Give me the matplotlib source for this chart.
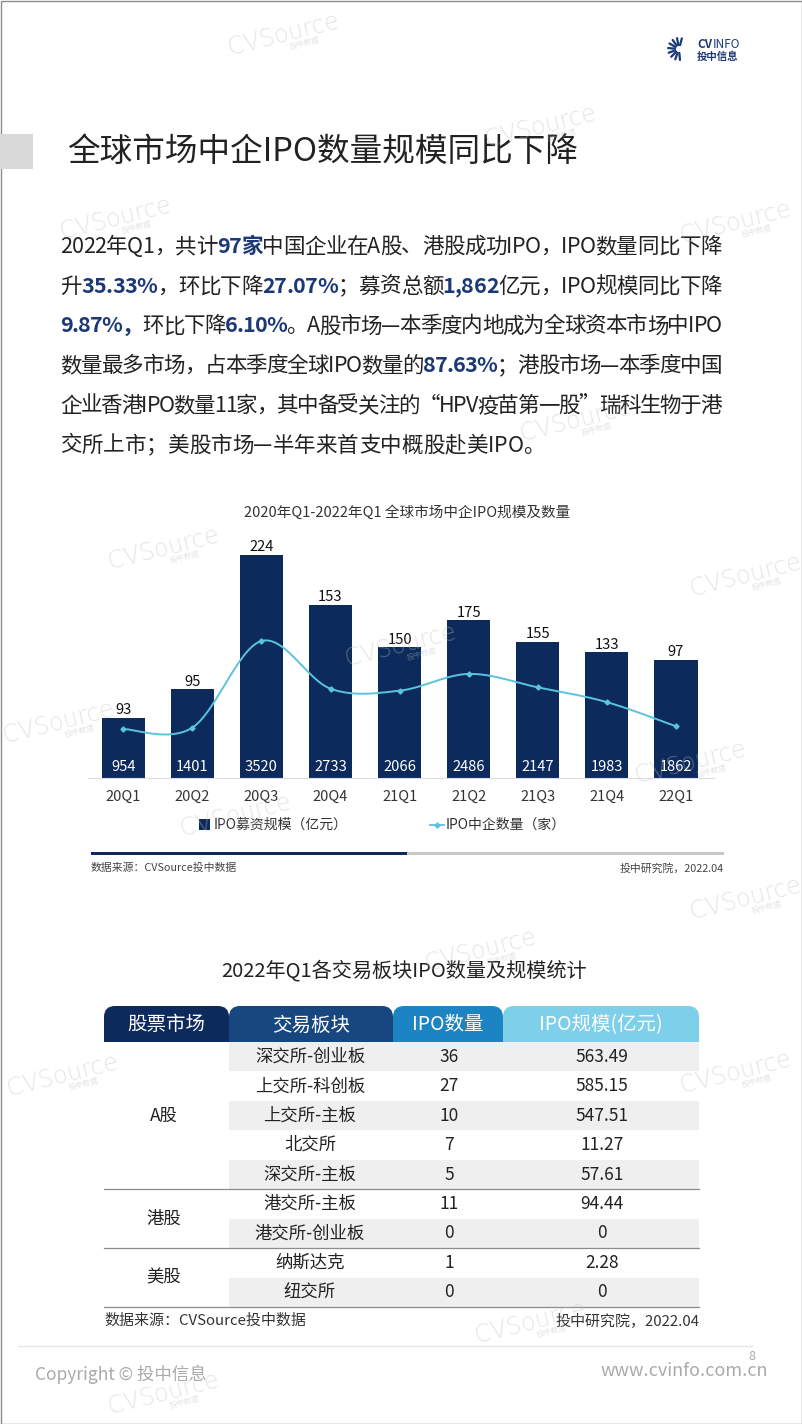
import numpy as np
import matplotlib.pyplot as plt
from matplotlib.patches import Rectangle, FancyBboxPatch

CJK = 'Noto Sans CJK SC'
plt.rcParams['font.family'] = [CJK, 'DejaVu Sans']

# chart data
quarters = ['20Q1', '20Q2', '20Q3', '20Q4', '21Q1', '21Q2', '21Q3', '21Q4', '22Q1']
ipo_amount = [954, 1401, 3520, 2733, 2066, 2486, 2147, 1983, 1862]   # 亿元, bars
ipo_count = [93, 95, 224, 153, 150, 175, 155, 133, 97]               # 家, line

# table data
headers = ['股票市场', '交易板块', 'IPO数量', 'IPO规模(亿元)']
markets = ['A股', '港股', '美股']
market_rows = [5, 2, 2]
boards = ['深交所-创业板', '上交所-科创板', '上交所-主板', '北交所', '深交所-主板',
          '港交所-主板', '港交所-创业板', '纳斯达克', '纽交所']
board_count = [36, 27, 10, 7, 5, 11, 0, 1, 0]
board_amount = [563.49, 585.15, 547.51, 11.27, 57.61, 94.44, 0, 2.28, 0]

# paragraph, (text, highlighted)
para = [
    [('2022年Q1，共计', 0), ('97家', 1), ('中国企业在A股、港股成功IPO，IPO数量同比下降', 0)],
    [('升', 0), ('35.33%', 1), ('，环比下降', 0), ('27.07%', 1), ('；募资总额', 0), ('1,862', 1),
     ('亿元，IPO规模同比下降', 0)],
    [('9.87%，', 1), ('环比下降', 0), ('6.10%', 1), ('。A股市场—本季度内地成为全球资本市场中IPO', 0)],
    [('数量最多市场，占本季度全球IPO数量的', 0), ('87.63%', 1), ('；港股市场—本季度中国', 0)],
    [('企业香港IPO数量11家，其中备受关注的“HPV疫苗第一股”瑞科生物于港', 0)],
    [('交所上市；美股市场—半年来首支中概股赴美IPO。', 0)],
]

navy = '#0C2A5C'
hl = '#1B3878'
cyan = '#5BC2DF'
ink = '#222222'

W, H = 802, 1424
fig = plt.figure(figsize=(W / 100, H / 100), dpi=100)
page = fig.add_axes([0, 0, 1, 1], zorder=0)
page.set_xlim(0, W)
page.set_ylim(H, 0)
page.axis('off')
r = fig.canvas.get_renderer()

# page frame and header
page.add_patch(Rectangle((0.5, 0.5), W - 1, H - 1, fill=False, ec='#8C8C8C', lw=1))
page.add_patch(Rectangle((0, 134), 33, 35, fc='#D9D9D9', ec='none'))
page.text(67, 152, '全球市场中企IPO数量规模同比下降', fontsize=23.5, color=ink, va='center',
          fontweight='light')

# logo
for a in np.radians([75, 100, 125, 150, 175, 200, 225, 250, 275]):
    page.plot([679 + 4 * np.cos(a), 679 + 11 * np.cos(a)],
              [49 - 4 * np.sin(a), 49 - 11 * np.sin(a)], color=hl, lw=1.6, solid_capstyle='round')
page.text(697, 45, 'CV', fontsize=8.5, color=hl, fontweight='bold', va='center')
page.text(713, 45, 'INFO', fontsize=8.5, color=hl, va='center')
page.text(697, 57, '投中信息', fontsize=7.5, color=hl, fontweight='bold', va='center')


def advance(s, **kw):
    t = page.text(0, 0, s + '国', **kw)
    w = t.get_window_extent(r).width
    t.set_text('国')
    w -= t.get_window_extent(r).width
    t.remove()
    return w


# paragraph, justified line by line
x_left, x_right = 60, 722
for k, line in enumerate(para):
    chars = []
    for txt, bold in line:
        for c in txt:
            chars.append((c, bold))
    styles = [dict(fontsize=15.5, color=hl if b else ink, fontweight='bold' if b else 'normal') for c, b in chars]
    widths = [advance(c, **st) for (c, b), st in zip(chars, styles)]
    gap = 0
    if k < len(para) - 1:
        gap = (x_right - x_left - sum(widths)) / (len(chars) - 1)
    x = x_left
    y = 253 + k * 39.7
    for (c, b), st, w in zip(chars, styles, widths):
        page.text(x, y, c, va='baseline', ha='left', **st)
        x += w + gap

# chart
page.text(407, 513, '2020年Q1-2022年Q1 全球市场中企IPO规模及数量', ha='center', va='center',
          fontsize=10.5, color='#333333')

ax = fig.add_axes([88 / W, 1 - 778 / H, 626 / W, 238 / H], zorder=1)
ax.patch.set_alpha(0)
xs = np.arange(len(quarters))
ax.bar(xs, ipo_amount, width=0.625, color=navy, zorder=2)
ax.set_xlim(-0.51, 8.55)
ax.set_ylim(0, 3754)
for s in ax.spines.values():
    s.set_visible(False)
ax.spines['bottom'].set_visible(True)
ax.spines['bottom'].set_color('#DDDDDD')
ax.set_yticks([])
ax.set_xticks(xs, quarters, fontsize=10.5, color='#333333')
ax.tick_params(axis='x', length=0, pad=8.5)
for i in xs:
    ax.annotate(str(ipo_count[i]), (i, ipo_amount[i]), xytext=(0, 3.5), textcoords='offset pixels',
                ha='center', va='baseline', fontsize=10.6, color='#111111')
    ax.annotate(str(ipo_amount[i]), (i, 0), xytext=(0, 7), textcoords='offset pixels',
                ha='center', va='baseline', fontsize=10.6, color='white')


def catmull(x, y, n=24):
    x = np.asarray(x, float)
    y = np.asarray(y, float)
    px = np.concatenate([[x[0]], x, [x[-1]]])
    py = np.concatenate([[y[0]], y, [y[-1]]])
    t = np.linspace(0, 1, n)[:, None]
    out = []
    for i in range(1, len(px) - 2):
        p = np.array([[px[i + j], py[i + j]] for j in (-1, 0, 1, 2)])
        seg = 0.5 * (2 * p[1] + (-p[0] + p[2]) * t + (2 * p[0] - 5 * p[1] + 4 * p[2] - p[3]) * t ** 2
                     + (-p[0] + 3 * p[1] - 3 * p[2] + p[3]) * t ** 3)
        out.append(seg if i == 1 else seg[1:])
    out = np.vstack(out)
    return out[:, 0], out[:, 1]


ax2 = ax.twinx()
ax2.set_ylim(20.1, 374.3)
ax2.axis('off')
cx, cy = catmull(xs, ipo_count)
ax2.plot(cx, cy, color=cyan, lw=1.4)
ax2.plot(xs, ipo_count, ls='none', marker='D', ms=2.6, color=cyan)

# legend
page.add_patch(Rectangle((199, 819), 11, 11, fc=navy, ec='none'))
page.text(214, 824.5, 'IPO募资规模（亿元）', fontsize=10, color='#333333', va='center')
page.plot([430, 444], [824.5, 824.5], color=cyan, lw=1.3)
page.plot([437], [824.5], marker='D', ms=2.6, color=cyan)
page.text(446, 824.5, 'IPO中企数量（家）', fontsize=10, color='#333333', va='center')

page.add_patch(Rectangle((91, 851.5), 316, 3.5, fc=navy, ec='none'))
page.add_patch(Rectangle((407, 851.5), 317, 3.5, fc='#C8C8C8', ec='none'))
page.text(91, 868, '数据来源：CVSource投中数据', fontsize=7.8, color='#444444', va='center')
page.text(724, 868, '投中研究院，2022.04', fontsize=7.8, color='#444444', va='center', ha='right')

# table
page.text(404, 971, '2022年Q1各交易板块IPO数量及规模统计', fontsize=14.5, color=ink, ha='center', va='center')
hx = [104, 229, 393, 503, 699]
hcolors = ['#0D2A5C', '#17477F', '#1C84C3', '#7DCFEA']
top, hb = 1006, 1042
for i in range(4):
    x0, x1 = hx[i], hx[i + 1]
    page.add_patch(FancyBboxPatch((x0, top), x1 - x0, hb - top, boxstyle='round,pad=0,rounding_size=11',
                                  fc=hcolors[i], ec='none'))
    page.add_patch(Rectangle((x0, top + 15), x1 - x0, hb - top - 15, fc=hcolors[i], ec='none'))
    page.text((x0 + x1) / 2, (top + hb) / 2 + 1, headers[i], fontsize=14, color='white', ha='center', va='center')

row_h = (1307 - hb) / len(boards)
for j in range(len(boards)):
    yc = hb + (j + 0.5) * row_h
    if j % 2 == 0:
        page.add_patch(Rectangle((229, hb + j * row_h), 699 - 229, row_h, fc='#EFEFEF', ec='none'))
    page.text(310, yc, boards[j], fontsize=12.5, color=ink, ha='center', va='center')
    page.text(449, yc, str(board_count[j]), fontsize=12.5, color=ink, ha='center', va='center')
    page.text(602, yc, f'{board_amount[j]:g}', fontsize=12.5, color=ink, ha='center', va='center')

start = 0
for m, n in zip(markets, market_rows):
    page.text(164, hb + (start + n / 2) * row_h, m, fontsize=12.5, color=ink, ha='center', va='center')
    start += n
    page.plot([104, 699], [hb + start * row_h] * 2, color='#8C8C8C', lw=0.9)

page.text(104, 1321, '数据来源：CVSource投中数据', fontsize=10.8, color='#333333', va='center')
page.text(699, 1321, '投中研究院，2022.04', fontsize=10.8, color='#333333', va='center', ha='right')

# footer
page.plot([18, 752], [1346, 1346], color='#E6E6E6', lw=1)
page.text(35, 1374, 'Copyright © 投中信息', fontsize=12.5, color='#AAAAAA', va='center')
page.text(768, 1371, 'www.cvinfo.com.cn', fontsize=13, color='#AAAAAA', va='center', ha='right')
page.text(752, 1357, '8', fontsize=9, color='#AAAAAA', va='center', ha='center')

# watermarks
wm = fig.add_axes([0, 0, 1, 1], zorder=5)
wm.set_xlim(0, W)
wm.set_ylim(H, 0)
wm.axis('off')
marks = [(283, 34), (115, 218), (540, 126), (735, 222), (575, 420), (163, 548), (400, 645),
         (690, 762), (235, 815), (745, 575), (58, 722), (745, 898), (480, 950), (62, 1075),
         (735, 1072), (530, 1322), (163, 1393)]
for x, y in marks:
    wm.text(x, y, 'CVSource', rotation=14, rotation_mode='anchor', ha='center', va='center',
            fontsize=17, color='#BFBFBF', alpha=0.4, family='DejaVu Sans', fontweight='light')
    wm.text(x + 22, y + 9, '投中数据', rotation=14, rotation_mode='anchor', ha='center', va='center',
            fontsize=5.5, color='#BFBFBF', alpha=0.4)

fig.savefig('out.png', dpi=100)
